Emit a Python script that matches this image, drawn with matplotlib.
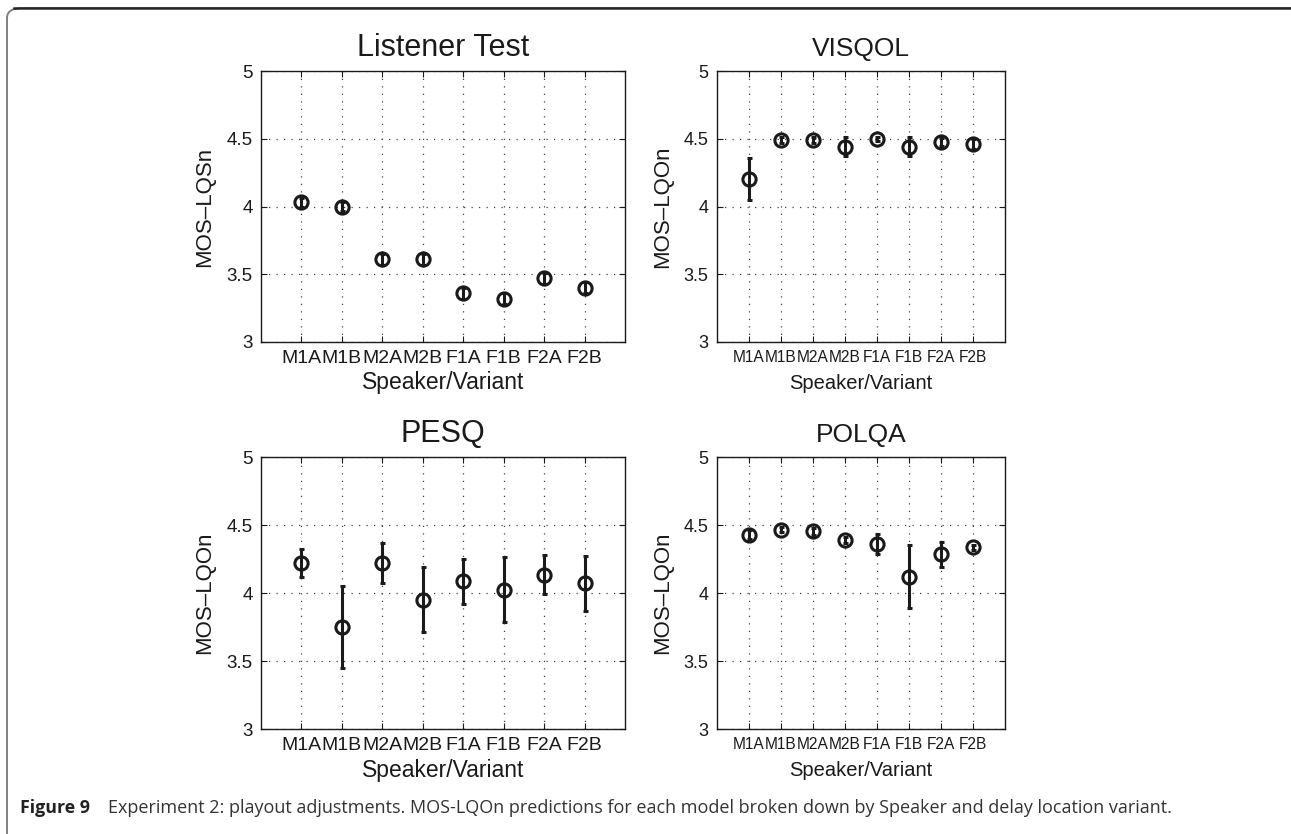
import matplotlib
matplotlib.use("Agg")
import matplotlib.pyplot as plt
from matplotlib.patches import FancyBboxPatch
from matplotlib.lines import Line2D
import numpy as np

# Speaker / delay-variant categories
variants = ["M1A", "M1B", "M2A", "M2B", "F1A", "F1B", "F2A", "F2B"]

# Listener test (MOS-LQSn)
listener_mean = [4.03, 4.00, 3.61, 3.61, 3.36, 3.32, 3.47, 3.40]
listener_err = [0.03, 0.03, 0.04, 0.04, 0.04, 0.04, 0.04, 0.04]

# VISQOL (MOS-LQOn)
visqol_mean = [4.20, 4.49, 4.49, 4.44, 4.50, 4.44, 4.475, 4.46]
visqol_err = [0.155, 0.02, 0.02, 0.07, 0.015, 0.07, 0.03, 0.035]

# PESQ (MOS-LQOn)
pesq_mean = [4.22, 3.75, 4.22, 3.95, 4.085, 4.025, 4.135, 4.07]
pesq_err = [0.10, 0.30, 0.145, 0.24, 0.165, 0.24, 0.145, 0.20]

# POLQA (MOS-LQOn)
polqa_mean = [4.43, 4.465, 4.455, 4.39, 4.36, 4.12, 4.285, 4.335]
polqa_err = [0.03, 0.02, 0.025, 0.025, 0.072, 0.23, 0.092, 0.02]

yticks = [3, 3.5, 4, 4.5, 5]
ytick_labels = ["3", "3.5", "4", "4.5", "5"]

plt.rcParams["font.family"] = ["Liberation Sans", "DejaVu Sans"]

W, H = 1291, 834
fig = plt.figure(figsize=(W / 100, H / 100), dpi=100)


def px_axes(x0, x1, y0, y1):
    return fig.add_axes([x0 / W, 1 - y1 / H, (x1 - x0) / W, (y1 - y0) / H])


# the right-hand panels are horizontally squeezed in the source, so their text is smaller
wide = dict(xtick=14, ytick=13.5, title=22, xlabel=16.5, ylabel=16, xpad=3)
narrow = dict(xtick=11.2, ytick=13, title=19, xlabel=14.5, ylabel=16, xpad=6)

panels = [
    ("Listener Test", "MOS\u2013LQSn", listener_mean, listener_err, (261, 625, 71, 342), wide),
    ("VISQOL", "MOS\u2013LQOn", visqol_mean, visqol_err, (717, 1005, 71, 342), narrow),
    ("PESQ", "MOS\u2013LQOn", pesq_mean, pesq_err, (261, 625, 457, 729), wide),
    ("POLQA", "MOS\u2013LQOn", polqa_mean, polqa_err, (717, 1005, 457, 729), narrow),
]

x = np.arange(1, len(variants) + 1)
ink = "#1a1a1a"

for title, ylabel, mean, err, box, fs in panels:
    ax = px_axes(*box)
    ax.errorbar(x, mean, yerr=err, fmt="o", color=ink, mfc="none", mec=ink,
                markersize=9.5, mew=2.2, elinewidth=2.2, capsize=1.8, capthick=2.2, zorder=3)
    ax.set_xlim(0, 9)
    ax.set_ylim(3, 5)
    ax.set_xticks(x)
    ax.set_xticklabels(variants, fontsize=fs["xtick"])
    ax.set_yticks(yticks)
    ax.set_yticklabels(ytick_labels, fontsize=fs["ytick"])
    ax.tick_params(direction="in", length=4, width=0.8, pad=6, top=True, right=True,
                   colors=ink)
    ax.grid(True, linestyle=(0, (1, 5)), color="0.25", linewidth=0.9)
    for s in ax.spines.values():
        s.set_linewidth(1.0)
        s.set_color(ink)
    ax.set_title(title, fontsize=fs["title"], pad=11, color=ink)
    ax.set_xlabel("Speaker/Variant", fontsize=fs["xlabel"], labelpad=fs["xpad"], color=ink)
    ax.set_ylabel(ylabel, fontsize=fs["ylabel"], labelpad=8, color=ink)

# Page frame around the figure
frame = FancyBboxPatch((7 / W, -0.02), 1.2, 1 - 8 / H + 0.02,
                       boxstyle="round,pad=0,rounding_size=0.012",
                       transform=fig.transFigure, fill=False,
                       edgecolor="0.5", linewidth=1.4, clip_on=False)
fig.patches.append(frame)
fig.lines.append(Line2D([14 / W, 1], [1 - 8 / H, 1 - 8 / H], transform=fig.transFigure,
                        color="0.15", linewidth=1.8))

cap_font = ["Open Sans", "DejaVu Sans"]
fig.text(20 / W, 1 - 813 / H, "Figure 9", fontsize=12.8, fontweight="bold",
         family=cap_font, va="baseline", color="#222222")
fig.text(108 / W, 1 - 813 / H,
         "Experiment 2: playout adjustments. MOS-LQOn predictions for each model "
         "broken down by Speaker and delay location variant.",
         fontsize=13, family=cap_font, va="baseline", color="#333333")

fig.savefig("out.png", dpi=100)
